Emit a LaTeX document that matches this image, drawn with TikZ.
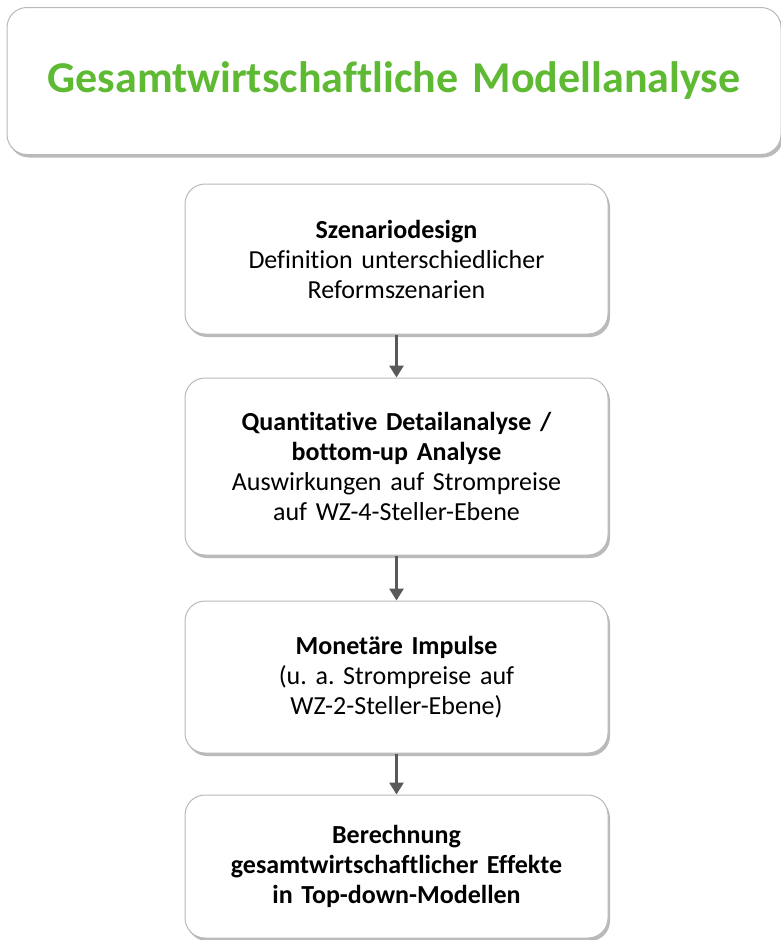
\documentclass[tikz,border=0pt]{standalone}
\usepackage{fontspec}
\setmainfont{Carlito}[Ligatures=NoCommon]
\usetikzlibrary{arrows.meta,positioning,shadows}
\definecolor{titelgruen}{RGB}{94,186,50}
\definecolor{pfeilgrau}{RGB}{89,89,89}
\frenchspacing

\begin{document}
\begin{tikzpicture}[x=1pt,y=1pt,
  box/.style={draw=gray!55, fill=white, line width=1pt, rounded corners=20pt,
    drop shadow={shadow xshift=2pt, shadow yshift=-3pt, fill=gray!90, opacity=0.6},
    align=center, inner sep=0pt, text width=415pt, minimum width=423pt,
    font=\fontsize{26}{30}\selectfont},
  pfeil/.style={draw=pfeilgrau, line width=3.5pt, -{Triangle[length=12pt,width=14pt]}}]
\useasboundingbox (0,0) rectangle (781,-940);

\node[box, minimum width=774pt, minimum height=147pt, text width=770pt, text=titelgruen,
  font=\fontsize{44}{52}\selectfont\bfseries] (titel) at (394,-81) {Gesamtwirtschaftliche Modellanalyse};

\node[box, minimum height=150pt] (szenario) at (396.5,-259) {\textbf{Szenariodesign}\\Definition unterschiedlicher\\Reformszenarien};
\node[box, minimum height=177pt, below=43pt of szenario] (detail) {\textbf{Quantitative Detailanalyse /}\\\textbf{bottom-up Analyse}\\Auswirkungen auf Strompreise\\auf WZ-4-Steller-Ebene};
\node[box, minimum height=152pt, below=45pt of detail] (impulse) {\textbf{Monetäre Impulse}\\(u. a. Strompreise auf\\WZ-2-Steller-Ebene)};
\node[box, minimum height=143pt, below=41pt of impulse] (effekte) {\textbf{Berechnung}\\\textbf{gesamtwirtschaftlicher Effekte}\\\textbf{in Top-down-Modellen}};

\draw[pfeil] (szenario) -- (detail);
\draw[pfeil] (detail) -- (impulse);
\draw[pfeil] (impulse) -- (effekte);
\end{tikzpicture}
\end{document}
